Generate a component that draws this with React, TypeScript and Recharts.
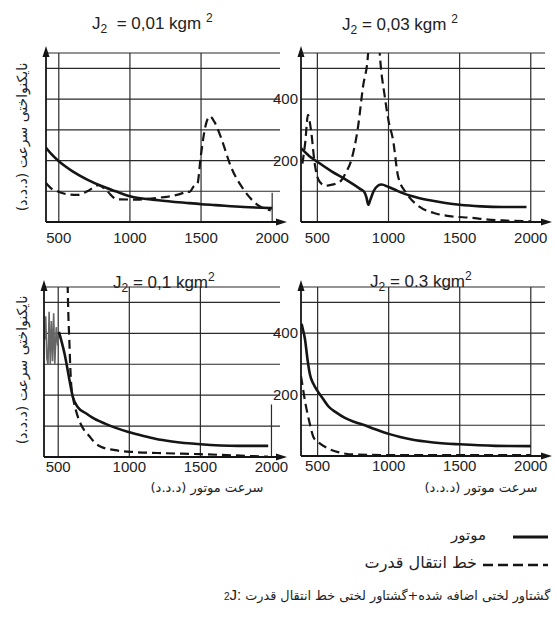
import React from 'react';
import { LineChart, Line, XAxis, YAxis, CartesianGrid, ReferenceLine, ReferenceDot } from 'recharts';

// motor speed (rpm) -> speed non-uniformity

// J2 = 0,01
const tlMotorSpeed = [410, 450, 500, 550, 600, 700, 800, 900, 1000, 1200, 1400, 1500, 1600, 1800, 2000];
const tlMotorValue = [242, 220, 198, 180, 164, 138, 117, 100, 84, 71, 62, 58, 55, 49, 45];
const tlDriveSpeed = [410, 450, 500, 560, 630, 700, 780, 840, 910, 1050, 1180, 1260, 1310, 1370, 1400, 1420, 1445, 1475, 1497, 1530, 1562, 1595, 1640, 1710, 1800, 1900, 1990];
const tlDriveValue = [127, 108, 98, 90, 88, 100, 120, 100, 74, 73, 78, 82, 86, 94, 100, 98, 114, 125, 210, 310, 344, 325, 275, 180, 105, 55, 38];

// J2 = 0,03
const trMotorSpeed = [385, 440, 500, 600, 700, 800, 830, 845, 858, 872, 895, 925, 951, 1000, 1050, 1100, 1200, 1300, 1400, 1500, 1650, 1800, 1970];
const trMotorValue = [240, 216, 196, 165, 138, 108, 98, 80, 56, 72, 100, 118, 122, 114, 104, 94, 80, 70, 62, 56, 51, 49, 49];
const trDriveSpeed = [395, 415, 434, 445, 458, 481, 516, 560, 587, 630, 669, 700, 739, 786, 821, 856, 870, 925, 939, 974, 1000, 1032, 1068, 1127, 1220, 1338, 1450, 1573, 1700, 1807, 2000];
const trDriveValue = [190, 260, 349, 330, 289, 191, 131, 118, 120, 125, 136, 160, 202, 310, 441, 545, 650, 650, 545, 408, 330, 267, 147, 93, 49, 27, 18, 14, 8, 5, 2];

// J2 = 0,1 (the motor curve oscillates below ~505 rpm, drawn grey in the figure)
const blWobbleSpeed = [405, 412, 420, 428, 436, 444, 452, 460, 468, 476, 486, 496, 505];
const blWobbleValue = [380, 455, 320, 300, 470, 300, 440, 310, 465, 300, 420, 360, 405];
const blMotorSpeed = [505, 545, 580, 603, 638, 700, 735, 829, 900, 994, 1100, 1182, 1300, 1500, 1766, 1977];
const blMotorValue = [405, 333, 247, 194, 161, 140, 129, 108, 95, 81, 68, 59, 50, 41, 36, 36];
const blDriveSpeed = [566, 572, 578, 584, 592, 605, 625, 660, 718, 760, 800, 900, 1035, 1200, 1500, 1750, 1975];
const blDriveValue = [560, 450, 380, 300, 230, 190, 150, 105, 68, 45, 33, 22, 16, 13, 9, 5, 1];

// J2 = 0.3
const brMotorSpeed = [387, 395, 411, 430, 446, 470, 500, 540, 575, 630, 692, 750, 810, 900, 1000, 1080, 1162, 1300, 1500, 1752, 2000];
const brMotorValue = [430, 415, 380, 310, 265, 235, 211, 185, 162, 142, 124, 112, 103, 88, 72, 62, 54, 45, 38, 33, 32];
const brDriveSpeed = [383, 395, 411, 430, 446, 470, 500, 575, 650, 750, 1000, 1500, 2000];
const brDriveValue = [260, 225, 179, 135, 103, 62, 47, 24, 12, 5, 3, 3, 3];

const speedTicks = [500, 1000, 1500, 2000];
const valueTicks = [100, 200, 300, 400, 500];
const labelledValues = [200, 400];

const zip = (xs: number[], ys: number[]) => xs.map((x, i) => ({ speed: x, value: ys[i] }));

const INK = '#151515';
const NUM_FONT = '"Liberation Sans", Arial, sans-serif';
const FA_FONT = '"DejaVu Sans", sans-serif';
const Y_MAX = 550;

const UpArrow = (props: any) => {
  const { cx, cy } = props;
  return <path d={`M${cx - 3.5},${cy + 4} L${cx},${cy - 7} L${cx + 3.5},${cy + 4} Z`} fill={INK} />;
};
const RightArrow = (props: any) => {
  const { cx, cy } = props;
  return <path d={`M${cx - 4},${cy - 3.5} L${cx + 7},${cy} L${cx - 4},${cy + 3.5} Z`} fill={INK} />;
};

type Pt = { speed: number; value: number };
type PanelProps = {
  plotLeft: number; plotTop: number; plotW: number; plotH: number;
  xMin: number; xMax: number;
  motor: Pt[]; drive: Pt[]; wobble?: Pt[];
  showY: boolean; tickGap: number; short2000?: number;
};

const Panel = ({ plotLeft, plotTop, plotW, plotH, xMin, xMax, motor, drive, wobble, showY, tickGap, short2000 }: PanelProps) => {
  const yw = 40, mt = 12, mr = 14, xh = 30;
  return (
    <div style={{ position: 'absolute', left: plotLeft - yw, top: plotTop - mt }}>
      <LineChart width={plotW + yw + mr} height={plotH + mt + xh} margin={{ top: mt, right: mr, bottom: 0, left: 0 }}>
        <CartesianGrid vertical={false} stroke="#2a2a2a" strokeWidth={1.2} />
        <XAxis
          type="number" dataKey="speed" domain={[xMin, xMax]} allowDataOverflow
          ticks={speedTicks} interval={0} height={xh} tickSize={0} tickMargin={tickGap} tickLine={false}
          axisLine={{ stroke: INK, strokeWidth: 1.8 }}
          tick={{ fontSize: 15, fill: '#222', fontFamily: NUM_FONT }}
        />
        <YAxis
          type="number" dataKey="value" domain={[0, Y_MAX]} allowDataOverflow
          ticks={valueTicks} interval={0} width={yw} tickSize={0} tickMargin={3} tickLine={false}
          axisLine={{ stroke: INK, strokeWidth: 1.8 }}
          tick={{ fontSize: 15, fill: '#222', fontFamily: NUM_FONT }}
          tickFormatter={(v: number) => (showY && labelledValues.includes(v) ? String(v) : '')}
        />
        {speedTicks.map(s =>
          s === 2000 && short2000 ? (
            <ReferenceLine key={s} segment={[{ x: s, y: 0 }, { x: s, y: short2000 }]} stroke="#2a2a2a" strokeWidth={1.2} />
          ) : (
            <ReferenceLine key={s} x={s} stroke="#2a2a2a" strokeWidth={1.2} />
          )
        )}
        {wobble && (
          <Line data={wobble} dataKey="value" type="linear" stroke="#666" strokeWidth={1.6} dot={false} isAnimationActive={false} />
        )}
        <Line data={motor} dataKey="value" type="monotone" stroke={INK} strokeWidth={2.6} dot={false} isAnimationActive={false} />
        <Line data={drive} dataKey="value" type="monotone" stroke={INK} strokeWidth={2.2} strokeDasharray="9 5" dot={false} isAnimationActive={false} />
        <ReferenceDot x={xMin} y={Y_MAX} r={0} shape={UpArrow} ifOverflow="visible" />
        <ReferenceDot x={xMax} y={0} r={0} shape={RightArrow} ifOverflow="visible" />
      </LineChart>
    </div>
  );
};

const Title = ({ left, top, children }: { left: number; top: number; children: React.ReactNode }) => (
  <div style={{ position: 'absolute', left, top, fontFamily: NUM_FONT, fontSize: 17, lineHeight: '20px', color: '#222', whiteSpace: 'pre' }}>
    {children}
  </div>
);
const sub = { fontSize: 12, verticalAlign: '-4px', lineHeight: 0 } as const;
const sup = { fontSize: 12, verticalAlign: '7px', lineHeight: 0 } as const;

const YLabel = ({ cy }: { cy: number }) => (
  <div style={{ position: 'absolute', left: 22, top: cy, width: 0, height: 0 }}>
    <div dir="rtl" style={{
      position: 'absolute', transform: 'translate(-50%, -50%) rotate(-90deg)', whiteSpace: 'nowrap',
      fontFamily: FA_FONT, fontSize: 14, color: '#222',
    }}>
      نایکنواختی سرعت (د.د.د)
    </div>
  </div>
);

const XLabel = ({ cx }: { cx: number }) => (
  <div dir="rtl" style={{
    position: 'absolute', left: cx, top: 480, transform: 'translateX(-50%)', whiteSpace: 'nowrap',
    fontFamily: FA_FONT, fontSize: 13, color: '#222',
  }}>
    سرعت موتور (د.د.د)
  </div>
);

export default function App() {
  return (
    <div style={{ position: 'absolute', left: 0, top: 0, width: 557, height: 619, background: '#fff', overflow: 'hidden' }}>
      <Panel plotLeft={46} plotTop={53} plotW={234} plotH={169} xMin={410} xMax={2055}
        motor={zip(tlMotorSpeed, tlMotorValue)} drive={zip(tlDriveSpeed, tlDriveValue)} showY={false} tickGap={10} short2000={95} />
      <Panel plotLeft={301} plotTop={53} plotW={244} plotH={169} xMin={385} xMax={2100}
        motor={zip(trMotorSpeed, trMotorValue)} drive={zip(trDriveSpeed, trDriveValue)} showY tickGap={10} />
      <Panel plotLeft={44} plotTop={287} plotW={236} plotH={170} xMin={400} xMax={2060}
        motor={zip(blMotorSpeed, blMotorValue)} drive={zip(blDriveSpeed, blDriveValue)} wobble={zip(blWobbleSpeed, blWobbleValue)}
        showY={false} tickGap={4} short2000={170} />
      <Panel plotLeft={301} plotTop={287} plotW={244} plotH={169} xMin={383} xMax={2100}
        motor={zip(brMotorSpeed, brMotorValue)} drive={zip(brDriveSpeed, brDriveValue)} showY tickGap={4} />

      <Title left={92} top={14}>J<span style={sub}>2</span>{'  = 0,01 kgm '}<span style={sup}>2</span></Title>
      <Title left={342} top={15}>J<span style={sub}>2</span>{' = 0,03 kgm '}<span style={sup}>2</span></Title>
      <Title left={113} top={273}>J<span style={sub}>2</span>{' = 0,1 kgm'}<span style={sup}>2</span></Title>
      <Title left={370} top={272}>J<span style={sub}>2</span>{' = 0.3 kgm'}<span style={sup}>2</span></Title>

      <YLabel cy={137} />
      <YLabel cy={370} />
      <XLabel cx={207} />
      <XLabel cx={481} />

      {/* legend */}
      <svg style={{ position: 'absolute', left: 480, top: 527 }} width={75} height={50}>
        <line x1={33} y1={10} x2={68} y2={10} stroke={INK} strokeWidth={2.8} />
        <line x1={3} y1={38} x2={68} y2={38} stroke={INK} strokeWidth={2.6} strokeDasharray="10 5" />
      </svg>
      <div dir="rtl" style={{ position: 'absolute', right: 557 - 486, top: 526, fontFamily: FA_FONT, fontSize: 15, color: '#222', whiteSpace: 'nowrap' }}>
        موتور
      </div>
      <div dir="rtl" style={{ position: 'absolute', right: 557 - 477, top: 553, fontFamily: FA_FONT, fontSize: 16, color: '#222', whiteSpace: 'nowrap' }}>
        خط انتقال قدرت
      </div>
      <div style={{ position: 'absolute', left: 224, top: 586, display: 'flex', alignItems: 'baseline', color: '#222', whiteSpace: 'nowrap' }}>
        <span style={{ direction: 'rtl', unicodeBidi: 'bidi-override', fontFamily: NUM_FONT, fontSize: 15 }}>J<span style={{ fontSize: 10 }}>2</span></span>
        <span style={{ fontFamily: NUM_FONT, fontSize: 15 }}>:</span>
        <span dir="rtl" style={{ fontFamily: FA_FONT, fontSize: 12.8, marginLeft: 4 }}>گشتاور لختی اضافه شده+گشتاور لختی خط انتقال قدرت</span>
      </div>
    </div>
  );
}
